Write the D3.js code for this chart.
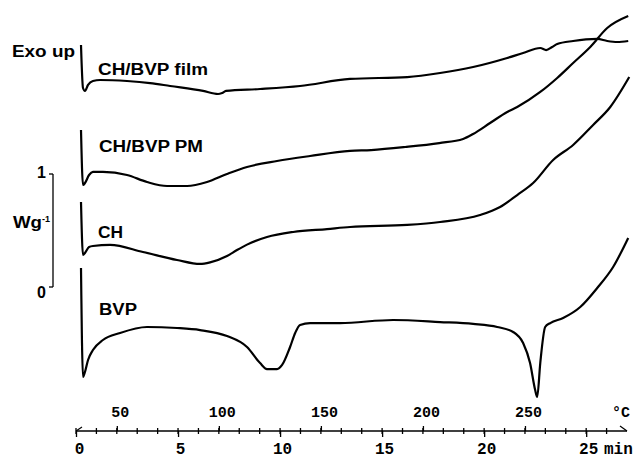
<!DOCTYPE html>
<html><head><meta charset="utf-8">
<script src="https://cdn.jsdelivr.net/npm/d3@7"></script>
<style>body{margin:0;background:#fff}svg{display:block}</style>
</head><body><svg id="c" width="634" height="459"></svg>
<script>
// time (min) and heat flow (W/g, stacked offsets)
const filmTime = [0.245,0.343,0.44,0.59,0.83,1.18,2.5,3.63,4.61,6.23,6.96,7.16,7.35,9.02,10.98,13.43,16.23,17.84,19.46,21.13,21.91,22.75,23.04,23.33,23.58,24.36,25.54,26.03,26.52,27.06];
const filmHF   = [2.142,1.761,1.735,1.788,1.823,1.832,1.823,1.805,1.779,1.735,1.708,1.717,1.735,1.752,1.779,1.841,1.858,1.894,1.947,2.027,2.071,2.115,2.097,2.124,2.150,2.177,2.195,2.177,2.168,2.177];
const pmTime = [0.245,0.343,0.44,0.64,0.83,1.32,2.5,3.48,4.46,5.44,6.42,7.4,8.38,9.85,11.47,13.43,14.46,16.13,17.8,18.97,19.46,20.29,21.13,21.62,22.75,23.58,24.36,25.2,26.03,27.06];
const pmHF   = [1.389,0.903,0.920,0.991,1.018,1.018,0.991,0.929,0.894,0.894,0.929,1.0,1.062,1.115,1.159,1.204,1.212,1.239,1.274,1.310,1.354,1.451,1.549,1.593,1.726,1.850,1.982,2.124,2.292,2.398];
const chTime = [0.245,0.343,0.44,0.64,0.83,1.67,3.28,4.95,6.08,6.57,7.4,7.89,8.38,9.36,10.64,12.3,13.43,16.23,17.84,19.8,20.78,21.62,22.4,23.38,24.36,25.34,26.18,27.11];
const chHF   = [0.752,0.283,0.301,0.354,0.363,0.372,0.310,0.239,0.204,0.218,0.274,0.327,0.375,0.442,0.487,0.513,0.531,0.549,0.575,0.637,0.708,0.814,0.920,1.124,1.257,1.434,1.593,1.858];
const bvpTime = [0.245,0.343,0.44,0.59,0.83,1.32,2.16,3.48,4.95,6.08,7.4,8.38,9.02,9.36,9.85,10.1,10.49,10.74,10.98,11.47,12.94,15.54,17.84,19.46,20.64,21.42,21.91,22.25,22.5,22.6,22.75,22.99,23.24,23.87,24.71,25.54,26.32,27.06];
const bvpHF   = [0.168,-0.796,-0.752,-0.646,-0.558,-0.469,-0.407,-0.354,-0.363,-0.381,-0.434,-0.531,-0.673,-0.726,-0.726,-0.690,-0.531,-0.407,-0.336,-0.319,-0.319,-0.292,-0.310,-0.327,-0.354,-0.398,-0.496,-0.673,-0.912,-0.973,-0.673,-0.354,-0.319,-0.274,-0.177,-0.009,0.177,0.434];

const seriesNames = ["CH/BVP film","CH/BVP PM","CH","BVP"];
const timeTicks = [0,5,10,15,20,25];
const tempTicks = [50,100,150,200,250];
const minorTicks = d3.range(0,27,1);
const scaleBarTicks = [0,1];

const svg = d3.select("#c");
const x = d3.scaleLinear().domain([0,27]).range([76,627]);
const xT = d3.scaleLinear().domain([30,300]).range([76,627]);
const y = d3.scaleLinear().domain([0,1]).range([287,174]);

const SANS = "'Liberation Sans', Arial, sans-serif";
const MONO = "'Liberation Mono', 'Courier New', monospace";

const line = d3.line().x(d=>x(d[0])).y(d=>y(d[1])).curve(d3.curveMonotoneX);
const series = [[filmTime,filmHF],[pmTime,pmHF],[chTime,chHF],[bvpTime,bvpHF]];
series.forEach(([t,v])=>{
  svg.append("path").datum(t.map((d,i)=>[d,v[i]]))
    .attr("d",line).attr("fill","none").attr("stroke","#000")
    .attr("stroke-width",2.2).attr("stroke-linejoin","round");
});

// series labels
const labelPos = [[98,75,110],[99,152,104],[98,238,25],[99,315,38]];
seriesNames.forEach((n,i)=>{
  svg.append("text").attr("x",labelPos[i][0]).attr("y",labelPos[i][1])
    .attr("textLength",labelPos[i][2]).attr("lengthAdjust","spacingAndGlyphs")
    .style("font-family",SANS).style("font-weight","bold").style("font-size","16px").text(n);
});
svg.append("text").attr("x",12).attr("y",57).attr("textLength",63).attr("lengthAdjust","spacingAndGlyphs")
  .style("font-family",SANS).style("font-weight","bold").style("font-size","16px").text("Exo up");

// scale bar
svg.append("line").attr("x1",53).attr("x2",53).attr("y1",y(1)).attr("y2",y(0)).attr("stroke","#000").attr("stroke-width",1.3);
scaleBarTicks.forEach(v=>{
  svg.append("line").attr("x1",49).attr("x2",53).attr("y1",y(v)).attr("y2",y(v)).attr("stroke","#000").attr("stroke-width",1.3);
  svg.append("text").attr("x",46).attr("y",y(v)+(v===1?4:11)).attr("text-anchor","end")
    .style("font-family",SANS).style("font-weight","bold").style("font-size","16px").text(v);
});
const wg = svg.append("text").attr("x",13).attr("y",228).style("font-family",SANS).style("font-weight","bold");
wg.append("tspan").style("font-size","16px").attr("textLength",29).attr("lengthAdjust","spacingAndGlyphs").text("Wg");
svg.append("text").attr("x",42).attr("y",222).style("font-family",SANS).style("font-weight","bold").style("font-size","9px").text("-1");

// bottom axes
const axY = 431;
svg.append("line").attr("x1",x(0)).attr("x2",x(27)).attr("y1",axY).attr("y2",axY).attr("stroke","#000").attr("stroke-width",1.3);
svg.append("path").attr("d",`M${x(0)},${axY}L${x(0)+6},${axY-4}`).attr("stroke","#000").attr("stroke-width",1.2).attr("fill","none");
svg.append("path").attr("d",`M${x(27)-7},${axY-5}L${x(27)},${axY}`).attr("stroke","#000").attr("stroke-width",1.2).attr("fill","none");

svg.append("g").selectAll("line").data(minorTicks).join("line")
  .attr("x1",d=>x(d)).attr("x2",d=>x(d)).attr("y1",axY-3).attr("y2",axY+3)
  .attr("stroke","#000").attr("stroke-width",1.3);

const gTime = svg.append("g").attr("transform",`translate(0,${axY})`)
  .call(d3.axisBottom(x).tickValues(timeTicks).tickSize(6).tickFormat(d=>d));
gTime.select(".domain").remove();
gTime.selectAll("line").attr("stroke-width",1.3);
gTime.selectAll("text").attr("y",23).attr("dy",0).attr("dx",d=>d===0?3:2)
  .style("font-family",MONO).style("font-weight","bold").style("font-size","16px").attr("fill","#000");

const gTemp = svg.append("g").attr("transform",`translate(0,${axY})`)
  .call(d3.axisTop(xT).tickValues(tempTicks).tickSize(5).tickFormat(d=>d));
gTemp.select(".domain").remove();
gTemp.selectAll("line").attr("stroke-width",1.3);
gTemp.selectAll("text").attr("y",-14).attr("dy",0).attr("dx",3)
  .style("font-family",MONO).style("font-weight","bold").style("font-size","15px").attr("fill","#000");

svg.append("text").attr("x",612).attr("y",417).style("font-family",MONO).style("font-weight","bold").style("font-size","15px").text("°C");
svg.append("text").attr("x",604).attr("y",454).style("font-family",MONO).style("font-weight","bold").style("font-size","16px").text("min");
</script></body></html>
